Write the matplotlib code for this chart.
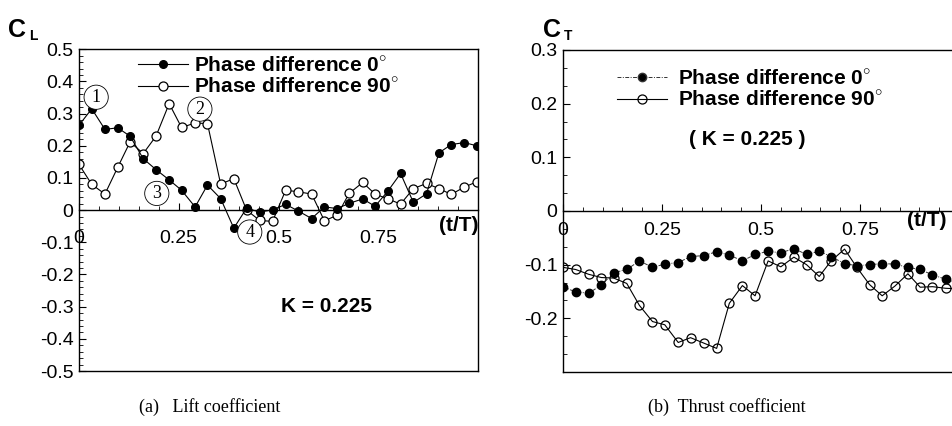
import matplotlib
matplotlib.use("Agg")
import matplotlib.pyplot as plt
from matplotlib.ticker import FixedLocator, MultipleLocator, FuncFormatter
from matplotlib.lines import Line2D

plt.rcParams["font.family"] = ["Liberation Sans", "DejaVu Sans"]
plt.rcParams["mathtext.fontset"] = "custom"
plt.rcParams["mathtext.rm"] = "Liberation Sans"
plt.rcParams["mathtext.bf"] = "Liberation Sans:bold"

# ---------- data ----------
t_over_T = [0.0, 0.032, 0.065, 0.097, 0.128, 0.161, 0.193, 0.226, 0.257, 0.291,
            0.322, 0.355, 0.388, 0.42, 0.453, 0.485, 0.518, 0.55, 0.583, 0.615,
            0.647, 0.677, 0.711, 0.742, 0.774, 0.806, 0.838, 0.871, 0.902, 0.933,
            0.966, 0.997]

cl_phase0 = [0.264, 0.315, 0.251, 0.256, 0.23, 0.16, 0.126, 0.094, 0.062, 0.01,
             0.078, 0.036, -0.056, 0.006, -0.006, 0.001, 0.018, -0.003, -0.026, 0.01,
             0.005, 0.021, 0.035, 0.012, 0.059, 0.114, 0.024, 0.051, 0.178, 0.204,
             0.21, 0.2]
cl_phase90 = [0.142, 0.08, 0.05, 0.133, 0.212, 0.176, 0.23, 0.331, 0.257, 0.271,
              0.269, 0.081, 0.098, 0.0, -0.032, -0.035, 0.062, 0.057, 0.05, -0.033,
              -0.016, 0.052, 0.086, 0.05, 0.035, 0.019, 0.067, 0.083, 0.067, 0.049,
              0.072, 0.088]

ct_phase0 = [-0.141, -0.151, -0.153, -0.138, -0.115, -0.109, -0.093, -0.105, -0.099, -0.096,
             -0.085, -0.083, -0.076, -0.082, -0.093, -0.081, -0.075, -0.078, -0.07, -0.081,
             -0.075, -0.085, -0.098, -0.102, -0.1, -0.098, -0.099, -0.105, -0.109, -0.119,
             -0.127, -0.135]
ct_phase90 = [-0.105, -0.109, -0.118, -0.124, -0.125, -0.135, -0.176, -0.206, -0.212, -0.245,
              -0.236, -0.246, -0.256, -0.172, -0.139, -0.158, -0.093, -0.104, -0.086, -0.1,
              -0.122, -0.093, -0.071, -0.105, -0.137, -0.158, -0.14, -0.117, -0.142, -0.141,
              -0.144, -0.145]

x_ticks = [0, 0.25, 0.5, 0.75]
legend_labels = [r"Phase difference 0$^{\circ}$", r"Phase difference 90$^{\circ}$"]
# circled markers on the lift plot: (label, t/T, C_L)
lift_marks = [("1", 0.043, 0.351), ("2", 0.303, 0.314), ("3", 0.195, 0.052), ("4", 0.428, -0.068)]

TICK_FS = 14
BOLD_FS = 15


def num_fmt(v, pos):
    s = f"{v:.1f}"
    return "0" if s in ("0.0", "-0.0") else s


def setup_axes(ax, ylim, ymajor, yminor, xpad):
    ax.set_xlim(0, 1)
    ax.set_ylim(*ylim)
    ax.spines["bottom"].set_position(("data", 0))
    # bottom frame line, since the spine is moved to zero
    ax.axhline(ylim[0], color="black", lw=1.0, clip_on=False)
    for s in ax.spines.values():
        s.set_linewidth(1.0)
    ax.xaxis.set_major_locator(FixedLocator(x_ticks))
    ax.xaxis.set_minor_locator(MultipleLocator(0.05))
    ax.xaxis.set_major_formatter(FuncFormatter(lambda v, p: f"{v:g}"))
    ax.yaxis.set_major_locator(MultipleLocator(ymajor))
    ax.yaxis.set_minor_locator(MultipleLocator(yminor))
    ax.yaxis.set_major_formatter(FuncFormatter(num_fmt))
    ax.tick_params(axis="both", which="both", direction="in", labelsize=TICK_FS)
    ax.tick_params(axis="y", which="major", length=5, pad=4)
    ax.tick_params(axis="y", which="minor", length=3)
    ax.tick_params(axis="x", which="major", length=5, pad=xpad)
    ax.tick_params(axis="x", which="minor", length=3)


fig = plt.figure(figsize=(9.52, 4.26), dpi=100)

# ---------- (a) lift ----------
ax1 = fig.add_axes([79 / 952, 55 / 426, 399 / 952, 321.7 / 426])
setup_axes(ax1, (-0.5, 0.5), 0.1, 0.02, 14)
ax1.plot(t_over_T, cl_phase90, "-", color="black", lw=0.8, marker="o", ms=6.5,
         mfc="white", mec="black", mew=0.9)
ax1.plot(t_over_T, cl_phase0, "-", color="black", lw=0.8, marker="o", ms=5.5,
         mfc="black", mec="black")
for lab, tx, cy in lift_marks:
    ax1.text(tx, cy, lab, family="Liberation Serif", fontsize=13, ha="center", va="center",
             bbox=dict(boxstyle="circle,pad=0.2", fc="white", ec="black", lw=0.6), zorder=5)
ax1.text(0.62, -0.3, "K = 0.225", fontsize=BOLD_FS, weight="bold", ha="center", va="center")
ax1.text(1.0, -0.047, "(t/T)", fontsize=BOLD_FS, weight="bold", ha="right", va="center")
h1 = [Line2D([], [], color="black", lw=0.8, marker="o", ms=5.5, mfc="black"),
      Line2D([], [], color="black", lw=0.8, marker="o", ms=6.5, mfc="white", mew=0.9)]
ax1.legend(h1, legend_labels, loc="upper left", bbox_to_anchor=(0.148, 0.979),
           frameon=False, borderaxespad=0, borderpad=0, handlelength=2.4,
           handletextpad=0.3, labelspacing=0.1, prop={"size": BOLD_FS, "weight": "bold"})

# ---------- (b) thrust ----------
ax2 = fig.add_axes([563 / 952, 54 / 426, 396 / 952, 322 / 426])
setup_axes(ax2, (-0.3, 0.3), 0.1, 0.1 / 3, 8)
ax2.plot(t_over_T, ct_phase90, "-", color="black", lw=0.8, marker="o", ms=6.5,
         mfc="none", mec="black", mew=0.9)
ax2.plot(t_over_T, ct_phase0, color="#333333", lw=0.7, ls=(0, (4, 1.5, 1, 1.5)),
         marker="o", ms=6, mfc="black", mec="black")
ax2.set_yticks([0.3, 0.2, 0.1, 0, -0.1, -0.2])
ax2.yaxis.set_minor_locator(MultipleLocator(0.1 / 3))
ax2.text(0.465, 0.133, "( K = 0.225 )", fontsize=BOLD_FS, weight="bold", ha="center", va="center")
ax2.text(0.919, -0.017, "(t/T)", fontsize=BOLD_FS, weight="bold", ha="center", va="center")
h2 = [Line2D([], [], color="#333333", lw=0.7, ls=(0, (4, 1.5, 1, 1.5)), marker="o", ms=6, mfc="black"),
      Line2D([], [], color="black", lw=0.8, marker="o", ms=6.5, mfc="none", mew=0.9)]
ax2.legend(h2, legend_labels, loc="upper left", bbox_to_anchor=(0.136, 0.94),
           frameon=False, borderaxespad=0, borderpad=0, handlelength=2.4,
           handletextpad=0.55, labelspacing=0.1, prop={"size": BOLD_FS, "weight": "bold"})

# axis symbols
fig.text(8 / 952, 1 - 30 / 426, "C", fontsize=18, weight="bold", va="center")
fig.text(29 / 952, 1 - 36 / 426, "L", fontsize=10, weight="bold", va="center")
fig.text(543 / 952, 1 - 30 / 426, "C", fontsize=18, weight="bold", va="center")
fig.text(564 / 952, 1 - 36 / 426, "T", fontsize=10, weight="bold", va="center")

# captions
fig.text(210 / 952, 1 - 407 / 426, "(a)   Lift coefficient", family="Liberation Serif",
         fontsize=13, ha="center", va="center")
fig.text(727 / 952, 1 - 407 / 426, "(b)  Thrust coefficient", family="Liberation Serif",
         fontsize=13, ha="center", va="center")

fig.savefig("out.png", dpi=100)
